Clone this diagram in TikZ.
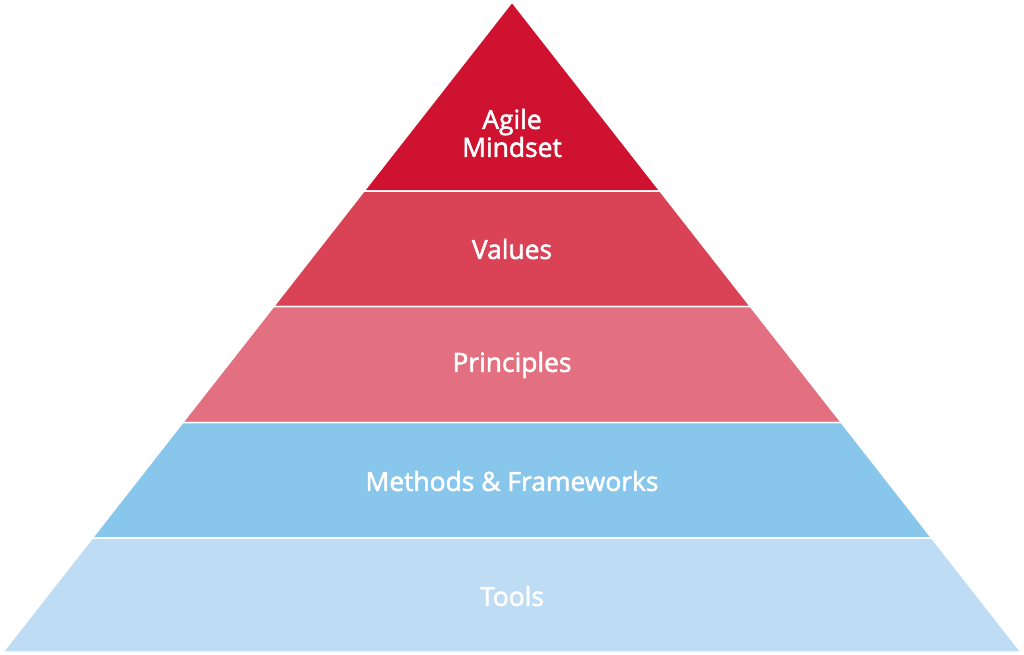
\documentclass[tikz,border=0pt]{standalone}
\usepackage{fontspec}
\newfontfamily\layerfont{Open Sans}[FakeBold=2]
\definecolor{mindsetred}{HTML}{CE1230}
\definecolor{valuesred}{HTML}{DA4356}
\definecolor{principlesred}{HTML}{E37080}
\definecolor{methodsblue}{HTML}{88C6EC}
\definecolor{toolsblue}{HTML}{BEDCF4}
\tikzset{
  layer/.style={draw=white, line width=1.5bp, line join=miter},
  layertext/.style={text=white, font=\layerfont\fontsize{26.5}{28}\selectfont, align=center}
}
\begin{document}
\begin{tikzpicture}[x=1bp, y=-1bp]
\useasboundingbox (0,0) rectangle (1024,655);

\draw[layer, fill=mindsetred] (512, 2) -- (660, 191) -- (364, 191) -- cycle;
\node[layertext] (mindset) at (512, 133) {Agile\\Mindset};

\draw[layer, fill=valuesred] (364, 191) -- (660, 191) -- (750.4, 306.5) -- (273.6, 306.5) -- cycle;
\node[layertext] (values) at (512, 249) {Values};

\draw[layer, fill=principlesred] (273.6, 306.5) -- (750.4, 306.5) -- (841.3, 422.5) -- (182.7, 422.5) -- cycle;
\node[layertext] (principles) at (512, 365) {Principles};

\draw[layer, fill=methodsblue] (182.7, 422.5) -- (841.3, 422.5) -- (931.7, 538) -- (92.3, 538) -- cycle;
\node[layertext] (methods) at (512, 481) {Methods \& Frameworks};

\draw[layer, fill=toolsblue] (92.3, 538) -- (931.7, 538) -- (1021, 652) -- (3, 652) -- cycle;
\node[layertext] (tools) at (512, 596) {Tools};

\end{tikzpicture}
\end{document}
